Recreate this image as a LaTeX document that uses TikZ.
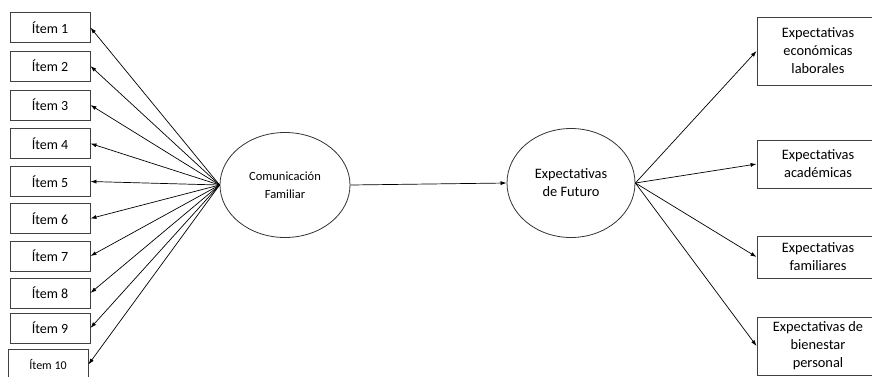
\documentclass[tikz,border=0pt]{standalone}
\usepackage{fontspec}
\setmainfont{Carlito}
\usetikzlibrary{arrows.meta,shapes.geometric}

\begin{document}
\begin{tikzpicture}[x=1pt,y=-1pt,
	item/.style={draw=black!75,line width=0.9pt,minimum width=80pt,minimum height=30pt,font=\fontsize{14}{17}\selectfont},
	factor/.style={draw=black!80,line width=0.8pt,ellipse,align=center,inner sep=0pt},
	exbox/.style={draw=black!75,line width=0.9pt,minimum width=122pt,align=center,font=\fontsize{14.4}{18}\selectfont},
	link/.style={-{Latex[length=6pt,width=4pt]},line width=0.7pt}]
	\useasboundingbox (0,0) rectangle (872,376);
	\clip (0,0) rectangle (872,376);
	\foreach \i/\y in {1/27.5,2/66,3/105,4/143.5,5/181.5,6/218.5,7/256,8/293,9/328}
		\node[item] (item\i) at (50,\y) {Ítem \i};
	\node[item,font=\fontsize{12}{14}\selectfont] (item10) at (48,364.5) {Ítem 10};
	\node[factor,minimum width=130pt,minimum height=105pt,font=\fontsize{12.5}{18}\selectfont] (comfam) at (285,185) {Comunicación\\Familiar};
	\node[factor,minimum width=128pt,minimum height=109pt,font=\fontsize{14.4}{18}\selectfont] (expfut) at (571,183) {Expectativas\\de Futuro};
	\node[exbox,minimum height=68pt] (exp1) at (818,51) {Expectativas\\económicas\\laborales};
	\node[exbox,minimum height=48pt] (exp2) at (818,164) {Expectativas\\académicas};
	\node[exbox,minimum height=42pt] (exp3) at (818,257) {Expectativas\\familiares};
	\node[exbox,minimum height=58pt] (exp4) at (818,346) {Expectativas de\\bienestar\\personal};
	\foreach \i in {1,...,10}
		\draw[link] (comfam.west) -- (item\i.east);
	\draw[link] (comfam.east) -- (expfut.west);
	\foreach \i in {1,...,4}
		\draw[link] (expfut.east) -- (exp\i.west);
\end{tikzpicture}
\end{document}
